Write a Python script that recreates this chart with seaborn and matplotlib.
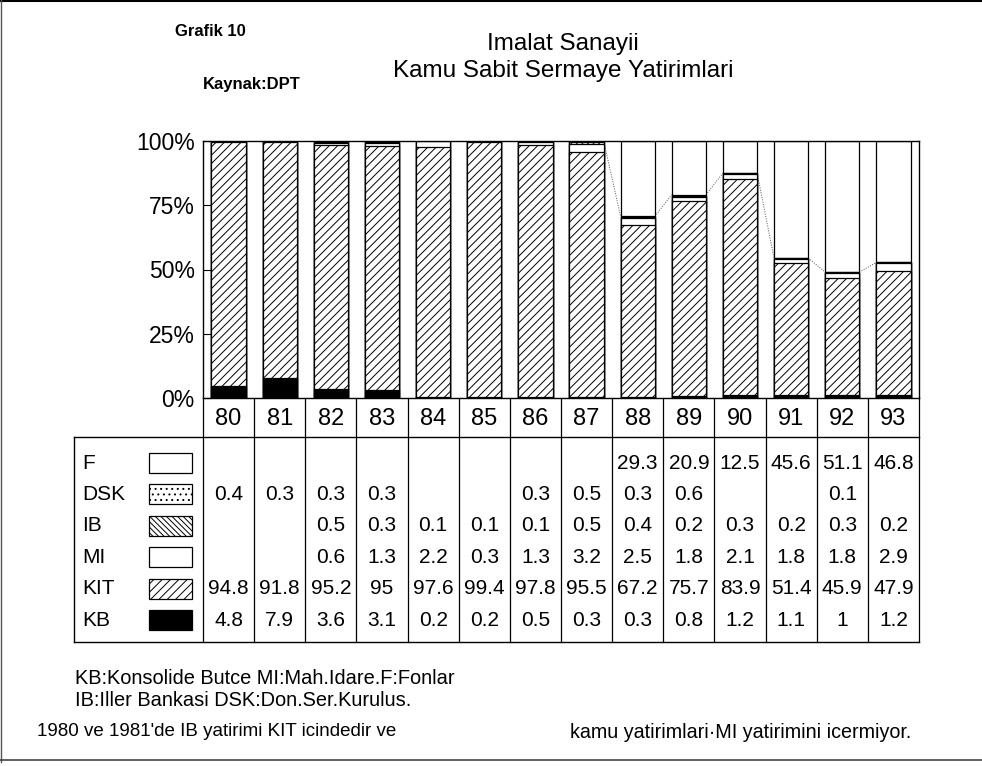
import numpy as np
import pandas as pd
import matplotlib
matplotlib.use("Agg")
import matplotlib.pyplot as plt
from matplotlib.patches import Rectangle
from matplotlib.lines import Line2D
import seaborn as sns

# ---------------- data ----------------
years = ["80", "81", "82", "83", "84", "85", "86", "87", "88", "89", "90", "91", "92", "93"]
KB  = [4.8, 7.9, 3.6, 3.1, 0.2, 0.2, 0.5, 0.3, 0.3, 0.8, 1.2, 1.1, 1, 1.2]
KIT = [94.8, 91.8, 95.2, 95, 97.6, 99.4, 97.8, 95.5, 67.2, 75.7, 83.9, 51.4, 45.9, 47.9]
MI  = [np.nan, np.nan, 0.6, 1.3, 2.2, 0.3, 1.3, 3.2, 2.5, 1.8, 2.1, 1.8, 1.8, 2.9]
IB  = [np.nan, np.nan, 0.5, 0.3, 0.1, 0.1, 0.1, 0.5, 0.4, 0.2, 0.3, 0.2, 0.3, 0.2]
DSK = [0.4, 0.3, 0.3, 0.3, np.nan, np.nan, 0.3, 0.5, 0.3, 0.6, np.nan, np.nan, 0.1, np.nan]
F   = [np.nan] * 8 + [29.3, 20.9, 12.5, 45.6, 51.1, 46.8]
series_names = ["KB", "KIT", "MI", "IB", "DSK", "F"]
yticks = [0, 25, 50, 75, 100]
ytick_labels = ["0%", "25%", "50%", "75%", "100%"]

series = {"KB": KB, "KIT": KIT, "MI": MI, "IB": IB, "DSK": DSK, "F": F}
df = pd.DataFrame({"year": years, **{k: v for k, v in series.items()}})
vals = df[series_names].fillna(0)
pct = vals.div(vals.sum(axis=1), axis=0) * 100      # 100% stacked
cum = pct.cumsum(axis=1)
for k in series_names:
    df["cum_" + k] = cum[k]

# styles
style = {
    "KB":  dict(color="black", hatch=None),
    "KIT": dict(color="white", hatch="////"),
    "MI":  dict(color="white", hatch=None),
    "IB":  dict(color="white", hatch="\\\\\\\\\\\\"),
    "DSK": dict(color="white", hatch="..."),
    "F":   dict(color="white", hatch=None),
}

FONT = "Liberation Sans"
plt.rcParams["font.family"] = [FONT, "DejaVu Sans"]
plt.rcParams["hatch.linewidth"] = 0.7
plt.rcParams["hatch.color"] = "black"

W, H = 982, 766
fig = plt.figure(figsize=(W / 100, H / 100), dpi=100)

def fx(px):
    return px / W

def fy(py):
    return 1 - py / H

# pixel layout
L, R, T, B = 203, 919, 141, 398
ax = fig.add_axes([fx(L), fy(B), fx(R) - fx(L), fy(T) - fy(B)])

BAR_W = 0.67
for k in reversed(series_names):
    st = style[k]
    sns.barplot(data=df, x="year", y="cum_" + k, order=years, color=st["color"],
                saturation=1, edgecolor="black", linewidth=0.9, hatch=st["hatch"],
                width=BAR_W, errorbar=None, ax=ax, zorder=2)

# connector lines (bottom of F) between adjacent bars, from 87 onwards
top_level = df["cum_DSK"].values
for i in range(7, len(years) - 1):
    ax.plot([i + BAR_W / 2, i + 1 - BAR_W / 2], [top_level[i], top_level[i + 1]],
            color="#555555", lw=0.7, ls=(0, (1, 1.5)), zorder=1)

ax.set_xlim(-0.5, len(years) - 0.5)
ax.set_ylim(0, 100)
ax.set_yticks(yticks)
ax.set_yticklabels(ytick_labels, fontsize=16.5)
ax.tick_params(axis="y", direction="in", length=6, width=0.8, pad=6)
ax.tick_params(axis="x", direction="in", length=4, width=0.8, labelbottom=False)
ax.set_xlabel("")
ax.set_ylabel("")
for s in ax.spines.values():
    s.set_visible(True)
    s.set_linewidth(1.0)
    s.set_color("black")

# ---------------- data table ----------------
TL, TT, TB = 74, 398, 642
unit = (R - L) / len(years)
xleft = -0.5 - (L - TL) / unit
tab = fig.add_axes([fx(TL), fy(TB), fx(R) - fx(TL), fy(TT) - fy(TB)])
tab.set_xlim(xleft, len(years) - 0.5)
tab.set_ylim(TB, TT)
tab.axis("off")

def px2x(px):
    return xleft + (px - TL) / unit

YR_BOT = 437
lw = 1.0
for k in range(len(years) + 1):
    tab.plot([k - 0.5, k - 0.5], [TT, TB], color="black", lw=0.9, clip_on=False)
tab.plot([xleft, len(years) - 0.5], [YR_BOT, YR_BOT], color="black", lw=lw, clip_on=False)
tab.plot([xleft, len(years) - 0.5], [TB, TB], color="black", lw=lw, clip_on=False)
tab.plot([xleft, xleft], [YR_BOT, TB], color="black", lw=lw, clip_on=False)

for i, yr in enumerate(years):
    tab.text(i, (TT + YR_BOT) / 2 + 1, yr, ha="center", va="center", fontsize=17)

row_order = ["F", "DSK", "IB", "MI", "KIT", "KB"]
row_y0, row_dy = 463, 31.4
for r, k in enumerate(row_order):
    yc = row_y0 + r * row_dy
    tab.text(px2x(82), yc, k, ha="left", va="center", fontsize=15)
    st = style[k]
    tab.add_patch(Rectangle((px2x(149), yc - 10), (192 - 149) / unit, 20,
                            facecolor=st["color"], edgecolor="black", lw=0.9,
                            hatch=st["hatch"], clip_on=False))
    for i, v in enumerate(series[k]):
        if v is None or (isinstance(v, float) and np.isnan(v)):
            continue
        tab.text(i, yc, f"{v:g}", ha="center", va="center", fontsize=15)

# ---------------- titles & notes ----------------
fig.text(fx(563), fy(44), "Imalat Sanayii", ha="center", va="center", fontsize=17.5)
fig.text(fx(563), fy(71), "Kamu Sabit Sermaye Yatirimlari", ha="center", va="center", fontsize=17.5)
fig.text(fx(175), fy(32), "Grafik 10", ha="left", va="center", fontsize=12, fontweight="bold")
fig.text(fx(203), fy(85), "Kaynak:DPT", ha="left", va="center", fontsize=12, fontweight="bold")

fig.text(fx(75), fy(678), "KB:Konsolide Butce MI:Mah.Idare.F:Fonlar", ha="left", va="center", fontsize=14.4)
fig.text(fx(75), fy(701), "IB:Iller Bankasi DSK:Don.Ser.Kurulus.", ha="left", va="center", fontsize=14.4)
fig.text(fx(37), fy(732), "1980 ve 1981'de IB yatirimi KIT icindedir ve", ha="left", va="center",
         fontsize=13.5)
fig.text(fx(570), fy(732), "kamu yatirimlari\u00b7MI yatirimini icermiyor.", ha="left", va="center",
         fontsize=14.2)

# page frame lines
fig.add_artist(Line2D([0, 1], [fy(1), fy(1)], color="black", lw=1.5, transform=fig.transFigure))
fig.add_artist(Line2D([fx(1), fx(1)], [fy(0), fy(762)], color="#555555", lw=1, transform=fig.transFigure))
fig.add_artist(Line2D([0, 1], [fy(760), fy(760)], color="#444444", lw=1.2, transform=fig.transFigure))

fig.savefig("out.png", dpi=100)
